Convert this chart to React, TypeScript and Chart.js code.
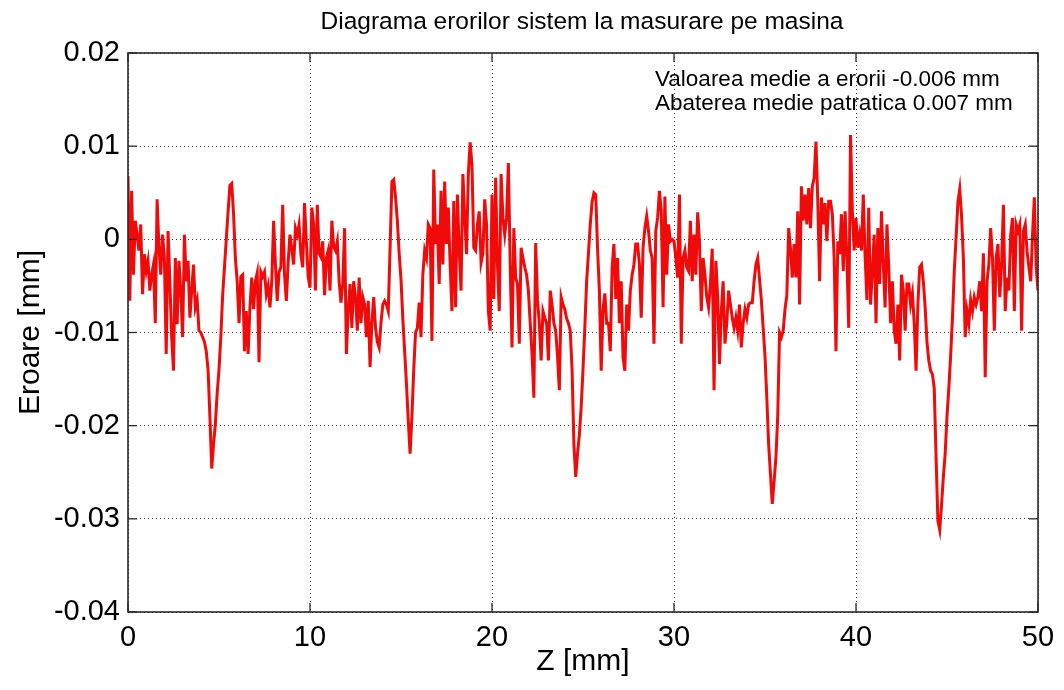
import React, { useEffect, useRef } from 'react';
import { Chart, registerables } from 'chart.js';

Chart.register(...registerables);

// Sampling of the Z axis (mm)
const zStartMm = 0;
const zStepMm = 0.1;

// Measured error, in micrometres (1 µm = 0.001 mm), one value every 0.1 mm from Z = 0 to Z = 50
const errorUm: number[] = [
  6.8, -6.6, 5.2, -3.8, 2.0, 0.5, -1.2, 1.6, -5.9, -1.6,
  -3.4, -2.3, -5.5, -3.8, -2.7, -9.0, 4.3, -0.8, -3.8, 0.5,
  -2.0, -12.3, 0.9, -4.5, -10.5, -14.1, -2.0, -9.1, -2.3, -5.5,
  -10.5, 0.5, -4.5, -2.3, -8.4, -5.5, -2.7, -7.3, -6.5, -9.8,
  -10.0, -10.5, -11.0, -12.0, -14.0, -19.0, -24.6, -22.0, -19.8, -16.5,
  -14.0, -10.5, -6.0, -3.0, 0.0, 3.0, 5.8, 6.0, 2.7, -2.0,
  -4.5, -9.0, -4.0, -3.8, -12.0, -7.7, -12.3, -7.3, -4.1, -7.5,
  -4.5, -3.6, -13.2, -3.5, -4.0, -3.5, -5.9, -5.0, -7.3, -4.5,
  2.0, -2.7, -6.6, -3.5, -3.0, 3.7, -3.8, -6.6, -2.5, 0.5,
  -1.0, -2.7, 1.2, 0.5, 1.6, -1.6, -3.0, 3.9, -0.2, -4.0,
  -5.2, 3.4, 1.6, -5.5, 3.7, -1.5, -1.9, -0.2, -6.0, -2.0,
  -1.2, -5.5, 2.0, -0.8, -1.2, -0.2, -4.5, -6.8, -4.8, 1.2,
  -12.3, -7.7, -4.8, -9.5, -4.5, -6.2, -9.8, -4.1, -9.0, -6.2,
  -7.0, -10.5, -6.6, -13.7, -9.0, -6.2, -9.5, -11.0, -11.6, -9.0,
  -7.0, -6.6, -7.0, -7.7, -1.0, 6.2, 6.4, 4.5, 2.0, -1.5,
  -4.3, -8.5, -12.0, -15.5, -19.5, -23.0, -19.0, -14.0, -10.0, -9.5,
  -6.8, -10.5, -3.8, -1.2, -2.0, 1.6, 1.2, -10.9, 7.5, -0.5,
  1.6, -4.8, 5.2, -2.7, 6.2, -0.5, 3.4, -2.7, -7.7, 4.1,
  -7.3, 4.8, -1.2, -5.5, 7.0, 2.5, -1.6, 7.0, 10.4, 8.0,
  -0.9, -1.2, 1.6, 3.0, -2.5, -1.5, 4.3, 1.6, -7.7, -9.8,
  4.8, -6.4, 6.6, -2.7, -7.7, 7.0, 2.3, 0.5, 2.3, 8.2,
  -2.7, -11.6, 1.2, -4.1, -4.8, -11.2, -0.9, -2.0, -3.0, -3.8,
  -5.5, -9.0, -12.3, -17.0, -0.4, -6.5, -9.0, -13.0, -7.7, -8.4,
  -9.0, -13.0, -5.5, -7.0, -9.0, -9.8, -12.5, -16.2, -6.2, -7.0,
  -7.5, -8.5, -9.0, -9.8, -14.0, -22.0, -25.5, -23.0, -21.0, -18.0,
  -14.0, -9.5, -4.5, -1.5, 1.6, 4.0, 5.0, 4.8, -1.0, -5.5,
  -14.1, -7.5, -5.8, -9.0, -9.0, -12.0, -3.0, -0.5, -6.4, -2.0,
  -9.0, -4.5, -12.7, -14.1, -7.0, -9.8, -5.5, -3.8, -2.7, -0.5,
  -0.5, -2.7, -8.4, -0.9, 1.2, 2.5, 0.9, -1.2, -2.0, -11.2,
  0.9, 2.3, 5.2, 3.0, -7.3, 4.6, -3.8, 1.6, -0.2, 0.0,
  -0.2, -2.0, -4.1, 4.8, -11.2, -2.0, -1.2, -3.0, -3.4, 2.0,
  -4.5, 0.5, -3.8, 2.9, -0.2, -7.7, -2.0, -3.8, -6.2, -7.3,
  -4.8, -1.0, -16.2, -2.3, -6.2, -13.4, -7.7, -4.5, -11.2, -9.0,
  -5.5, -7.0, -8.4, -9.5, -8.4, -9.8, -7.0, -11.6, -9.0, -7.5,
  -8.4, -7.0, -6.8, -6.8, -4.5, -2.7, -2.0, -4.3, -6.5, -9.5,
  -12.5, -17.0, -22.0, -25.2, -28.4, -26.0, -23.4, -19.0, -10.0, -10.5,
  -9.8, -7.5, -6.0, 1.2, -1.0, -4.1, -0.5, -4.1, 3.0, -7.0,
  5.7, 2.0, 4.8, 1.6, 5.5, 1.2, 5.7, 6.6, 10.5, 4.1,
  -4.5, 4.5, 1.6, 3.9, -0.2, 4.1, 4.1, 2.7, -2.0, -12.0,
  -0.2, -1.6, 2.7, -3.4, 3.0, -2.0, -9.5, 11.2, 3.0, -1.2,
  2.3, -0.9, 0.5, -1.2, 4.8, -1.8, -6.5, 3.4, -7.0, -3.4,
  0.5, -9.0, 1.2, -4.8, 3.0, -2.7, -7.3, 1.6, -3.0, -9.0,
  -4.5, -9.8, -11.2, -7.0, -13.0, -3.8, -5.5, -9.8, -4.8, -4.8,
  -7.0, -5.8, -9.0, -14.1, -7.0, -3.0, -2.7, -4.5, -7.3, -11.0,
  -13.0, -14.1, -14.5, -16.0, -23.4, -30.2, -31.2, -28.5, -25.5, -23.0,
  -19.0, -16.0, -12.5, -8.4, -3.4, 0.2, 4.0, 5.4, 2.5, -2.0,
  -10.5, -7.7, -9.0, -6.5, -7.7, -6.2, -7.0, -6.2, -4.5, -7.7,
  -1.5, -14.8, -4.5, -2.7, 1.2, -2.0, -9.8, -2.0, -0.5, -6.2,
  -2.7, 3.7, -7.7, -4.1, -5.5, 0.5, 2.3, -7.7, 1.6, 0.9,
  1.6, -9.8, 0.9, 1.6, -1.3, -3.0, -4.5, 0.5, 4.5, -3.0,
  -5.5,
];

const xTickLabels = ['0', '10', '20', '30', '40', '50'];
const yTickLabels = ['-0.04', '-0.03', '-0.02', '-0.01', '0', '0.01', '0.02'];

const titleText = 'Diagrama erorilor sistem la masurare pe masina';
const noteLines = ['Valoarea medie a erorii -0.006 mm', 'Abaterea medie patratica 0.007 mm'];
const xAxisTitle = 'Z [mm]';
const yAxisTitle = 'Eroare [mm]';

const FONT = '"Liberation Sans", Arial, Helvetica, sans-serif';

const decorPlugin = {
  id: 'decor',
  afterDraw(chart: any) {
    const { ctx, chartArea: a, scales } = chart;
    ctx.save();
    ctx.setLineDash([]);
    // frame
    ctx.strokeStyle = '#2a2a2a';
    ctx.lineWidth = 1.6;
    ctx.strokeRect(a.left, a.top, a.right - a.left, a.bottom - a.top);
    // inward ticks
    const tl = 9;
    ctx.lineWidth = 1.3;
    const seg = (x1: number, y1: number, x2: number, y2: number) => {
      ctx.beginPath();
      ctx.moveTo(x1, y1);
      ctx.lineTo(x2, y2);
      ctx.stroke();
    };
    scales.y.ticks.forEach((t: any) => {
      const y = scales.y.getPixelForValue(t.value);
      seg(a.left, y, a.left + tl, y);
      seg(a.right, y, a.right - tl, y);
    });
    scales.x.ticks.forEach((t: any) => {
      const x = scales.x.getPixelForValue(t.value);
      seg(x, a.bottom, x, a.bottom - tl);
      seg(x, a.top, x, a.top + tl);
    });
    // texts
    ctx.fillStyle = '#000';
    ctx.textBaseline = 'middle';
    ctx.textAlign = 'center';
    ctx.font = `24.5px ${FONT}`;
    ctx.fillText(titleText, 582, 22);
    ctx.font = `30px ${FONT}`;
    ctx.fillText(xAxisTitle, (a.left + a.right) / 2, 662);
    ctx.save();
    ctx.translate(31, (a.top + a.bottom) / 2);
    ctx.rotate(-Math.PI / 2);
    ctx.fillText(yAxisTitle, 0, 0);
    ctx.restore();
    ctx.textAlign = 'left';
    ctx.font = `22.5px ${FONT}`;
    noteLines.forEach((line, i) => ctx.fillText(line, 655, 80 + i * 24));
    ctx.restore();
  },
};

export default function App() {
  const canvasRef = useRef<HTMLCanvasElement | null>(null);

  useEffect(() => {
    document.body.style.margin = '0';
    const canvas = canvasRef.current;
    if (!canvas) return;
    const points = errorUm.map((v, i) => ({
      x: Math.round((zStartMm + i * zStepMm) * 10) / 10,
      y: v / 1000,
    }));
    const chart = new Chart(canvas, {
      type: 'line',
      data: {
        datasets: [
          {
            data: points,
            borderColor: '#f00a0a',
            borderWidth: 3,
            pointRadius: 0,
            tension: 0,
            fill: false,
          },
        ],
      },
      options: {
        responsive: false,
        animation: false,
        parsing: true,
        layout: { padding: { top: 53, right: 26, left: 0, bottom: 0 } },
        plugins: {
          legend: { display: false },
          tooltip: { enabled: false },
          title: { display: false },
        },
        scales: {
          x: {
            type: 'linear',
            min: 0,
            max: 50,
            afterFit: (s: any) => {
              s.height = 78;
            },
            ticks: {
              stepSize: 10,
              color: '#000',
              padding: 9,
              maxRotation: 0,
              font: { family: FONT, size: 29 },
              callback: (v: any) => xTickLabels[Math.round(Number(v) / 10)] ?? '',
            },
            grid: { color: '#3a3a3a', lineWidth: 1, drawTicks: false },
            border: { display: false, dash: [1, 3] },
          },
          y: {
            type: 'linear',
            min: -0.04,
            max: 0.02,
            afterFit: (s: any) => {
              s.width = 128;
            },
            ticks: {
              stepSize: 0.01,
              color: '#000',
              padding: 8,
              font: { family: FONT, size: 29 },
              callback: (v: any) => yTickLabels[Math.round(Number(v) * 100) + 4] ?? '',
            },
            grid: { color: '#3a3a3a', lineWidth: 1, drawTicks: false },
            border: { display: false, dash: [1, 3] },
          },
        },
      },
      plugins: [decorPlugin],
    });
    return () => chart.destroy();
  }, []);

  return (
    <div style={{ width: 1064, height: 690, background: '#fff' }}>
      <canvas ref={canvasRef} width={1064} height={690} style={{ display: 'block' }} />
    </div>
  );
}
